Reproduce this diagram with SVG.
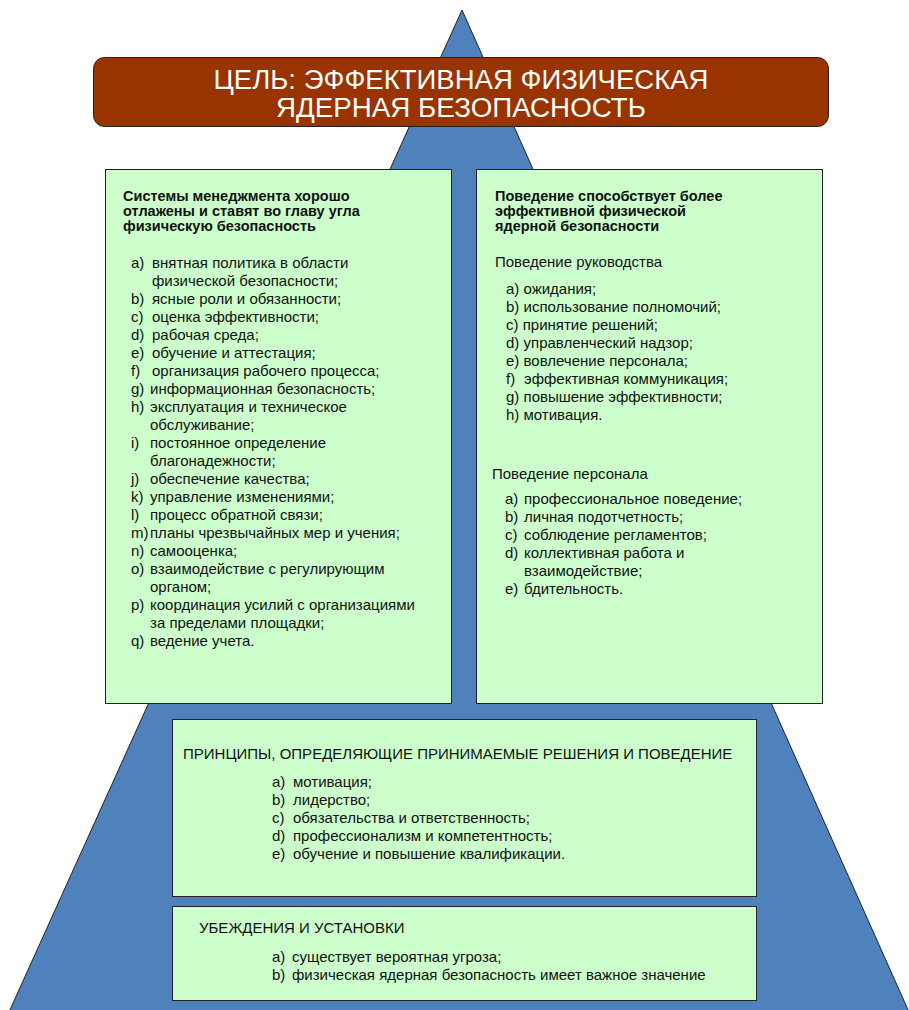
<svg xmlns="http://www.w3.org/2000/svg" width="909" height="1010" viewBox="0 0 909 1010">
  <style>
    .box { fill: #CCFFCC; stroke: #222; stroke-width: 1; }
    .t { font-family: "Liberation Sans", Arial, sans-serif; font-size: 15px; fill: #111; }
    .h { font-family: "Liberation Sans", Arial, sans-serif; font-size: 14.5px; font-weight: bold; fill: #111; }
    .title { font-family: "Liberation Sans", Arial, sans-serif; font-size: 27px; fill: #fff; }
  </style>

  <!-- pyramid background -->
  <g id="pyramid">
    <polygon points="462,10 9,1012 909,1012" fill="#4F81BD" stroke="#222" stroke-width="1"/>
  </g>

  <!-- goal banner -->
  <g id="goal">
    <rect x="93.5" y="57.5" width="735" height="69" rx="11" fill="#993300" stroke="#222" stroke-width="1"/>
    <text class="title" x="461" y="89" text-anchor="middle" textLength="495" lengthAdjust="spacingAndGlyphs">ЦЕЛЬ: ЭФФЕКТИВНАЯ ФИЗИЧЕСКАЯ</text>
    <text class="title" x="461" y="117" text-anchor="middle" textLength="370" lengthAdjust="spacingAndGlyphs">ЯДЕРНАЯ БЕЗОПАСНОСТЬ</text>
  </g>

  <!-- management systems -->
  <g id="management">
    <rect class="box" x="105.5" y="169.5" width="346" height="534"/>
    <text class="h" x="123" y="201">Системы менеджмента хорошо</text>
    <text class="h" x="123" y="216">отлажены и ставят во главу угла</text>
    <text class="h" x="123" y="231">физическую безопасность</text>
    <g class="t">
      <text x="131" y="268">a)</text><text x="152" y="268">внятная политика в области</text>
      <text x="152" y="286">физической безопасности;</text>
      <text x="131" y="304">b)</text><text x="152" y="304">ясные роли и обязанности;</text>
      <text x="131" y="322">c)</text><text x="152" y="322">оценка эффективности;</text>
      <text x="131" y="340">d)</text><text x="152" y="340">рабочая среда;</text>
      <text x="131" y="358">e)</text><text x="152" y="358">обучение и аттестация;</text>
      <text x="131" y="376">f)</text><text x="152" y="376">организация рабочего процесса;</text>
      <text x="131" y="394">g)</text><text x="150" y="394">информационная безопасность;</text>
      <text x="131" y="412">h)</text><text x="150" y="412">эксплуатация и техническое</text>
      <text x="150" y="430">обслуживание;</text>
      <text x="131" y="448">i)</text><text x="150" y="448">постоянное определение</text>
      <text x="150" y="466">благонадежности;</text>
      <text x="131" y="484">j)</text><text x="150" y="484">обеспечение качества;</text>
      <text x="131" y="502">k)</text><text x="150" y="502">управление изменениями;</text>
      <text x="131" y="520">l)</text><text x="150" y="520">процесс обратной связи;</text>
      <text x="131" y="538">m)</text><text x="150" y="538">планы чрезвычайных мер и учения;</text>
      <text x="131" y="556">n)</text><text x="150" y="556">самооценка;</text>
      <text x="131" y="574">o)</text><text x="150" y="574">взаимодействие с регулирующим</text>
      <text x="150" y="592">органом;</text>
      <text x="131" y="610">p)</text><text x="150" y="610">координация усилий с организациями</text>
      <text x="150" y="628">за пределами площадки;</text>
      <text x="131" y="646">q)</text><text x="150" y="646">ведение учета.</text>
    </g>
  </g>

  <!-- behaviour -->
  <g id="behaviour">
    <rect class="box" x="476.5" y="169.5" width="346" height="534"/>
    <text class="h" x="495" y="201">Поведение способствует более</text>
    <text class="h" x="495" y="216">эффективной физической</text>
    <text class="h" x="495" y="231">ядерной безопасности</text>
    <g class="t">
      <text x="495" y="267">Поведение руководства</text>
      <text x="506" y="294">a) ожидания;</text>
      <text x="506" y="312">b) использование полномочий;</text>
      <text x="506" y="330">c) принятие решений;</text>
      <text x="506" y="348">d) управленческий надзор;</text>
      <text x="506" y="366">e) вовлечение персонала;</text>
      <text x="506" y="384">f)</text><text x="524" y="384">эффективная коммуникация;</text>
      <text x="506" y="402">g) повышение эффективности;</text>
      <text x="506" y="420">h) мотивация.</text>

      <text x="492" y="479">Поведение персонала</text>
      <text x="505" y="504">a)</text><text x="524" y="504">профессиональное поведение;</text>
      <text x="505" y="522">b)</text><text x="524" y="522">личная подотчетность;</text>
      <text x="505" y="540">c)</text><text x="524" y="540">соблюдение регламентов;</text>
      <text x="505" y="558">d)</text><text x="524" y="558">коллективная работа и</text>
      <text x="524" y="576">взаимодействие;</text>
      <text x="505" y="594">e)</text><text x="524" y="594">бдительность.</text>
    </g>
  </g>

  <!-- principles -->
  <g id="principles">
    <rect class="box" x="172.5" y="719.5" width="584" height="177"/>
    <g class="t">
      <text x="183" y="759">ПРИНЦИПЫ, ОПРЕДЕЛЯЮЩИЕ ПРИНИМАЕМЫЕ РЕШЕНИЯ И ПОВЕДЕНИЕ</text>
      <text x="272" y="787">a)</text><text x="293" y="787">мотивация;</text>
      <text x="272" y="805">b)</text><text x="293" y="805">лидерство;</text>
      <text x="272" y="823">c)</text><text x="293" y="823">обязательства и ответственность;</text>
      <text x="272" y="841">d)</text><text x="293" y="841">профессионализм и компетентность;</text>
      <text x="272" y="859">e)</text><text x="293" y="859">обучение и повышение квалификации.</text>
    </g>
  </g>

  <!-- beliefs -->
  <g id="beliefs">
    <rect class="box" x="172.5" y="906.5" width="584" height="94"/>
    <g class="t">
      <text x="199" y="933">УБЕЖДЕНИЯ И УСТАНОВКИ</text>
      <text x="272" y="962">a)</text><text x="292" y="962">существует вероятная угроза;</text>
      <text x="272" y="980">b)</text><text x="292" y="980">физическая ядерная безопасность имеет важное значение</text>
    </g>
  </g>

  <g id="connectors"/>
</svg>
